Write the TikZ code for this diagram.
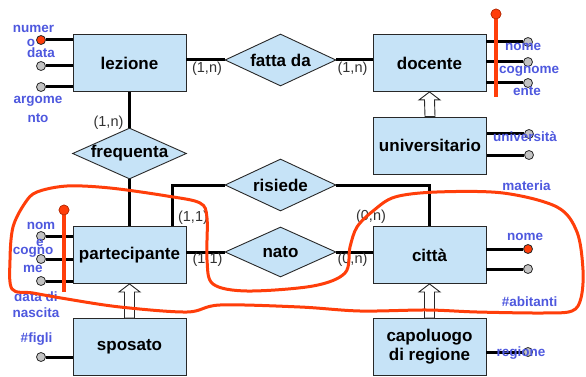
\documentclass[tikz,border=0pt]{standalone}
\usepackage{fontspec}
\setmainfont{Liberation Sans}
\usetikzlibrary{shapes.geometric,calc}
\definecolor{boxfill}{RGB}{198,227,247}
\definecolor{lblblue}{RGB}{78,88,222}
\definecolor{idred}{RGB}{255,62,10}
\definecolor{circgray}{RGB}{195,195,195}
\definecolor{edgecol}{RGB}{40,40,40}
\definecolor{cardgray}{RGB}{50,50,50}
\newcommand\isaarrow[2]{\draw[isa] ($(#1.north)+(-5,0)$) -- ($(#2.south)+(-5,8)$) -- ($(#2.south)+(-10.5,8)$) -- (#2.south) -- ($(#2.south)+(10.5,8)$) -- ($(#2.south)+(5,8)$) -- ($(#1.north)+(5,0)$) -- cycle;}
\begin{document}
\begin{tikzpicture}[x=1pt,y=-1pt,
 ent/.style={draw=edgecol, line width=0.9pt, fill=boxfill, minimum width=113pt, minimum height=57pt, inner sep=0pt, font=\fontsize{17}{19}\selectfont\bfseries, align=center},
 rel/.style={diamond, draw=edgecol, line width=0.9pt, fill=boxfill, minimum width=111pt, minimum height=52pt, inner sep=0pt, font=\fontsize{17}{19}\selectfont\bfseries},
 conn/.style={line width=3pt, black},
 attr/.style={circle, draw=edgecol, line width=0.8pt, fill=circgray, minimum size=9pt, inner sep=0pt},
 keyattr/.style={attr, fill=idred},
 reddot/.style={circle, draw=idred!70!black, line width=0.6pt, fill=idred, minimum size=10pt, inner sep=0pt},
 lbl/.style={font=\fontsize{13.5}{16}\selectfont\bfseries, text=lblblue, inner sep=0pt},
 card/.style={font=\fontsize{14.5}{16}\selectfont, text=cardgray, inner sep=0pt},
 idbar/.style={line width=4.5pt, idred},
 isa/.style={draw=edgecol, line width=0.9pt, fill=white},
 loopline/.style={line width=3pt, idred, line join=round}
]
\useasboundingbox (0,0) rectangle (586,377);

% entities
\node[ent] (lez) at (129.5,63) {lezione};
\node[ent] (doc) at (429.5,63) {docente};
\node[ent] (univ) at (430,145.5) {universitario};
\node[ent] (part) at (129.5,255) {partecipante};
\node[ent] (citta) at (429.5,255) {città};
\node[ent] (spos) at (129.5,347) {sposato};
\node[ent] (capo) at (429.5,347) {capoluogo\\di regione};

% relationships
\node[rel] (fatta) at (280.5,60) {\makebox[0pt]{fatta da}};
\node[rel, minimum width=114pt, minimum height=51pt] (freq) at (129.5,153.5) {\makebox[0pt]{frequenta}};
\node[rel] (ris) at (280.5,185) {\makebox[0pt]{risiede}};
\node[rel, minimum height=50pt] (nato) at (280.5,252) {\makebox[0pt]{nato}};

% connectors
\draw[conn] (fatta.west) -- (fatta.west -| lez.east);
\draw[conn] (fatta.east) -- (fatta.east -| doc.west);
\draw[conn] (freq.north) -- (lez.south);
\draw[conn] (freq.south) -- (part.north);
\draw[conn] (ris.west) -| ([xshift=100pt]part.north west);
\draw[conn] (ris.east) -| (citta.north);
\draw[conn] (nato.west) -- (nato.west -| part.east);
\draw[conn] (nato.east) -- (nato.east -| citta.west);

% ISA arrows
\isaarrow{univ}{doc}
\isaarrow{spos}{part}
\isaarrow{capo}{citta}

% attributes of lezione
\node[keyattr] (la1) at (41,40) {};
\node[attr] (la2) at (41,66) {};
\node[attr] (la3) at (41,87) {};
\foreach \a in {la1,la2,la3} \draw[conn] (\a) -- (\a -| lez.west);

% attributes of docente
\node[attr] (da1) at (528,42) {};
\node[attr] (da2) at (528,62) {};
\node[attr] (da3) at (528,83) {};
\foreach \a in {da1,da2,da3} \draw[conn] (\a) -- (\a -| doc.east);
\node[reddot] (dkey) at (496,14) {};
\coordinate (dkeyend) at (496,97);
\draw[idbar] (dkey.center) -- (dkeyend);
\node[reddot] at (dkey) {};

% attributes of universitario
\node[attr] (ua1) at (529,134) {};
\node[attr] (ua2) at (529,155) {};
\foreach \a in {ua1,ua2} \draw[conn] (\a) -- (\a -| univ.east);

% attributes of partecipante
\node[attr] (pa1) at (41,236) {};
\node[attr] (pa2) at (41,259) {};
\node[attr] (pa3) at (41,281) {};
\foreach \a in {pa1,pa2,pa3} \draw[conn] (\a) -- (\a -| part.west);
\node[reddot] (pkey) at (64,210) {};
\coordinate (pkeyend) at (64,292);
\draw[idbar] (pkey.center) -- (pkeyend);
\node[reddot] at (pkey) {};

% attributes of citta
\node[keyattr] (ca1) at (528,249) {};
\node[attr] (ca2) at (528,269) {};
\foreach \a in {ca1,ca2} \draw[conn] (\a) -- (\a -| citta.east);

% attributes of sposato and capoluogo
\node[attr] (sa1) at (41,357) {};
\draw[conn] (sa1) -- (sa1 -| spos.west);
\node[attr] (ka1) at (528,352) {};
\draw[conn] (ka1) -- (ka1 -| capo.east);

% cardinalities
\node[card] (c1) at (207,69) {(1,n)};
\node[card] (c2) at (352.5,69) {(1,n)};
\node[card] (c3) at (108.5,123) {(1,n)};
\node[card] (c4) at (193,218) {(1,1)};
\node[card] (c5) at (207.5,260) {(1,1)};
\node[card] (c6) at (352.5,260) {(0,n)};
\node[card] (c7) at (371,217) {(0,n)};

% attribute labels
\node[lbl] (l1) at (33.5,29) {numer};
\node[lbl] (l2) at (31,43) {o};
\node[lbl] (l3) at (41,53) {data};
\node[lbl] (l4) at (38,101) {argome};
\node[lbl] (l5) at (38,118) {nto};
\node[lbl] (l6) at (523,47) {nome};
\node[lbl] (l7) at (529,71) {cognome};
\node[lbl] (l8) at (527,91) {ente};
\node[lbl] (l9) at (525,137) {università};
\node[lbl] (l10) at (526.5,186) {materia};
\node[lbl] (l11) at (525,237) {nome};
\node[lbl] (l12) at (529.5,302) {\#abitanti};
\node[lbl] (l13) at (521,353) {regione};
\node[lbl] (l14) at (41,226) {nom};
\node[lbl] (l15) at (40,243) {e};
\node[lbl] (l16) at (33,252) {cogno};
\node[lbl] (l17) at (33,269) {me};
\node[lbl] (l18) at (36,297) {data di};
\node[lbl] (l19) at (36,313) {nascita};
\node[lbl] (l20) at (36.5,339) {\#figli};

% hand-drawn red loop
\draw[loopline] plot[smooth cycle, tension=0.55] coordinates {
 (37,192) (67,186) (110,188) (167,196) (200,203) (207,218) (207,260) (213,284)
 (247,291) (313,286) (345,273) (350,247) (357,227) (373,211) (395,197) (437,192)
 (503,193) (557,207) (577,232) (583,270) (581,298) (572,311) (543,313) (477,312)
 (427,310) (360,311) (300,307) (220,305) (187,312) (120,307) (67,299) (33,293)
 (12,289) (10,260) (13,227) (25,203)};
\end{tikzpicture}
\end{document}
